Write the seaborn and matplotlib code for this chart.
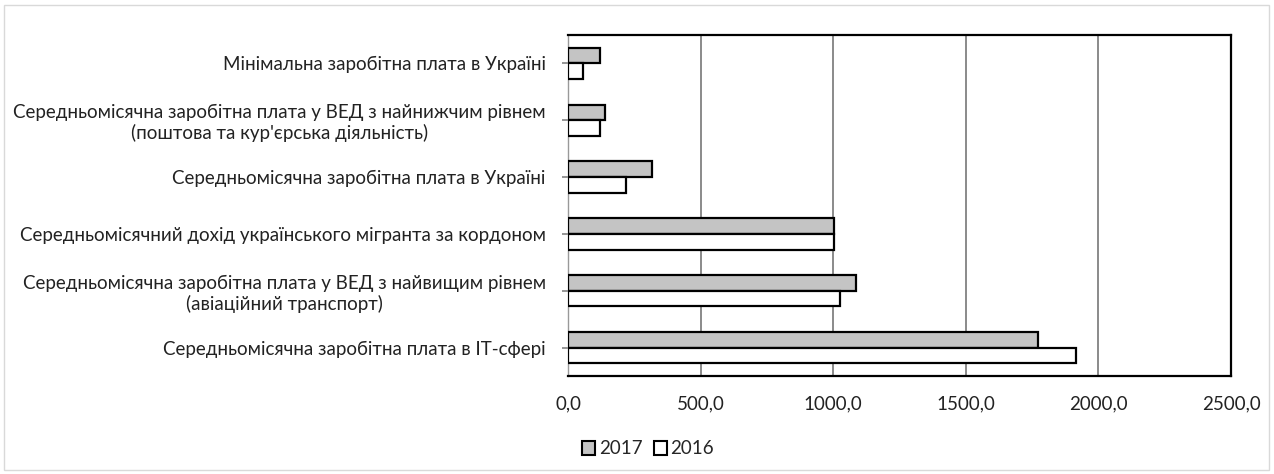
import matplotlib
matplotlib.use("Agg")
import matplotlib.pyplot as plt
import seaborn as sns
import pandas as pd
from matplotlib.patches import Rectangle, Patch

categories = [
    "Мінімальна заробітна плата в Україні",
    "Середньомісячна заробітна плата у ВЕД з найнижчим рівнем\n(поштова та кур'єрська діяльність)",
    "Середньомісячна заробітна плата в Україні",
    "Середньомісячний дохід українського мігранта за кордоном",
    "Середньомісячна заробітна плата у ВЕД з найвищим рівнем\n(авіаційний транспорт)",
    "Середньомісячна заробітна плата в ІТ-сфері",
]
values_2017 = [120, 139, 316, 1004, 1087, 1771]
values_2016 = [57, 120, 218, 1004, 1027, 1914]
series = ["2017", "2016"]
xticks = [0, 500, 1000, 1500, 2000, 2500]
xticklabels = ["0,0", "500,0", "1000,0", "1500,0", "2000,0", "2500,0"]

df = pd.DataFrame({
    "cat": categories * 2,
    "val": values_2017 + values_2016,
    "year": ["2017"] * len(categories) + ["2016"] * len(categories),
})

sns.set_theme(style="white")
plt.rcParams["font.family"] = ["Lato", "DejaVu Sans"]

FS = 13.5
fig = plt.figure(figsize=(12.74, 4.74), dpi=100)
ax = fig.add_axes([568 / 1274, 1 - 376 / 474, (1231 - 568) / 1274, (376 - 35) / 474])

colors = {"2017": "#c4c4c4", "2016": "#ffffff"}
sns.barplot(data=df, y="cat", x="val", hue="year", hue_order=series,
            order=categories, palette=colors, orient="h", width=0.55,
            edgecolor="black", linewidth=1.6, legend=False, ax=ax, zorder=3)

ax.set_xlim(0, 2500)
ax.set_xticks(xticks)
ax.set_xticklabels(xticklabels, fontsize=FS, color="#222222")
ax.set_xlabel("")
ax.set_ylabel("")
ax.tick_params(axis="y", labelsize=FS, labelcolor="#222222", length=4, left=True,
               color="#888888", pad=12)
ax.tick_params(axis="x", length=0, pad=14)
for lbl in ax.get_yticklabels():
    lbl.set_horizontalalignment("right")
    lbl.set_multialignment("center")
ax.xaxis.grid(True, color="#777777", linewidth=1.2, zorder=0)
ax.set_axisbelow(True)
for s in ["top", "right", "bottom"]:
    ax.spines[s].set_color("black")
    ax.spines[s].set_linewidth(1.6)
ax.spines["left"].set_color("#999999")
ax.spines["left"].set_linewidth(1.0)

handles = [Patch(facecolor=colors[s], edgecolor="black", linewidth=1.5, label=s) for s in series]
fig.legend(handles=handles, loc="center", bbox_to_anchor=(648 / 1274, 1 - 449 / 474),
           ncol=2, frameon=False, fontsize=FS, handlelength=0.7, handleheight=0.7,
           handletextpad=0.2, columnspacing=0.6)

fig.patches.append(Rectangle((4 / 1274, 4 / 474), 1 - 9 / 1274, 1 - 9 / 474,
                             transform=fig.transFigure, fill=False,
                             edgecolor="#d9d9d9", linewidth=1.0))

fig.savefig("out.png", dpi=100)
